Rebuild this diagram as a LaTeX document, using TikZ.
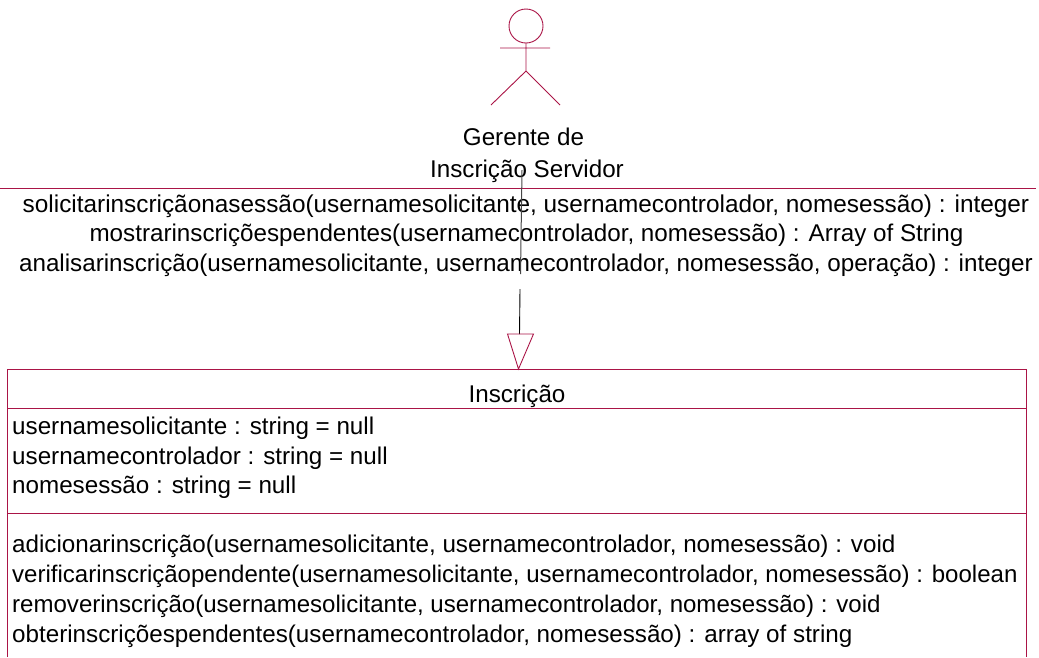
\documentclass[tikz,border=0pt]{standalone}
\usepackage{fontspec}
\setmainfont{Liberation Sans}
\definecolor{umlred}{RGB}{170,20,70}
\definecolor{conn}{RGB}{70,70,70}
\tikzset{
  x=1pt,y=-1pt,
  umlline/.style={draw=umlred,line width=0.9pt},
  txt/.style={inner sep=0pt,font=\fontsize{24.2}{28}\selectfont,text=black,anchor=base},
  ltxt/.style={txt,anchor=base west},
  connector/.style={draw=conn,line width=1pt}
}
\begin{document}
\begin{tikzpicture}
\useasboundingbox (0,0) rectangle (1039,657);
% actor
\draw[umlline] (526,26) circle (17);
\coordinate (neck) at (526,43);
\coordinate (hip) at (526,71);
\coordinate (armL) at (500,48);
\coordinate (armR) at (550,48);
\coordinate (legL) at (491,105);
\coordinate (legR) at (560,105);
\draw[umlline] (neck) -- (hip) (armL) -- (armR) (legL) -- (hip) -- (legR);
% actor name
\node[txt] (name1) at (523.5,145) {Gerente de};
\node[txt] (name2) at (527,177) {Inscrição Servidor};
% interface
\coordinate (ifL) at (0,188);
\coordinate (ifR) at (1036,188);
\draw[umlline] (ifL) -- (ifR);
\node[txt,font=\fontsize{24.35}{28}\selectfont] (op1) at (526,212) {solicitarinscriçãonasessão(usernamesolicitante, usernamecontrolador, nomesessão) : integer};
\node[txt] (op2) at (526.5,241.5) {mostrarinscriçõespendentes(usernamecontrolador, nomesessão) : Array of String};
\node[txt] (op3) at (526,271) {analisarinscrição(usernamesolicitante, usernamecontrolador, nomesessão, operação) : integer};
% class box
\coordinate (boxTL) at (7,369);
\coordinate (boxTR) at (1026,369);
\coordinate (boxBL) at (7,657);
\coordinate (boxBR) at (1026,657);
\draw[umlline] (boxBL) -- (boxTL) -- (boxTR) -- (boxBR);
\draw[umlline] (7,408) -- (1026,408);
\draw[umlline] (7,513) -- (1026,513);
\node[txt] (title) at (517,402) {Inscrição};
\node[ltxt] (a1) at (12,434) {usernamesolicitante : string = null};
\node[ltxt] (a2) at (12,464) {usernamecontrolador : string = null};
\node[ltxt] (a3) at (12,493.5) {nomesessão : string = null};
\node[ltxt] (m1) at (12,552.5) {adicionarinscrição(usernamesolicitante, usernamecontrolador, nomesessão) : void};
\node[ltxt,font=\fontsize{24.03}{28}\selectfont] (m2) at (12,582.5) {verificarinscriçãopendente(usernamesolicitante, usernamecontrolador, nomesessão) : boolean};
\node[ltxt,font=\fontsize{24.05}{28}\selectfont] (m3) at (12,612.5) {removerinscrição(usernamesolicitante, usernamecontrolador, nomesessão) : void};
\node[ltxt] (m4) at (12,642.5) {obterinscriçõespendentes(usernamecontrolador, nomesessão) : array of string};
% connector
\coordinate (c1) at (522,170);
\coordinate (c2) at (520.5,274);
\coordinate (c3) at (520,289);
\coordinate (c4) at (519.5,334);
\draw[connector] (c1) -- (c2);
\draw[draw=black,line width=0.9pt] (c3) -- (c4);
% generalization head
\coordinate (tipL) at (507.5,334);
\coordinate (tipR) at (533.5,334);
\coordinate (tip) at (518.5,369);
\draw[umlline,line join=miter] (tipL) -- (tipR) -- (tip) -- cycle;
\end{tikzpicture}
\end{document}
